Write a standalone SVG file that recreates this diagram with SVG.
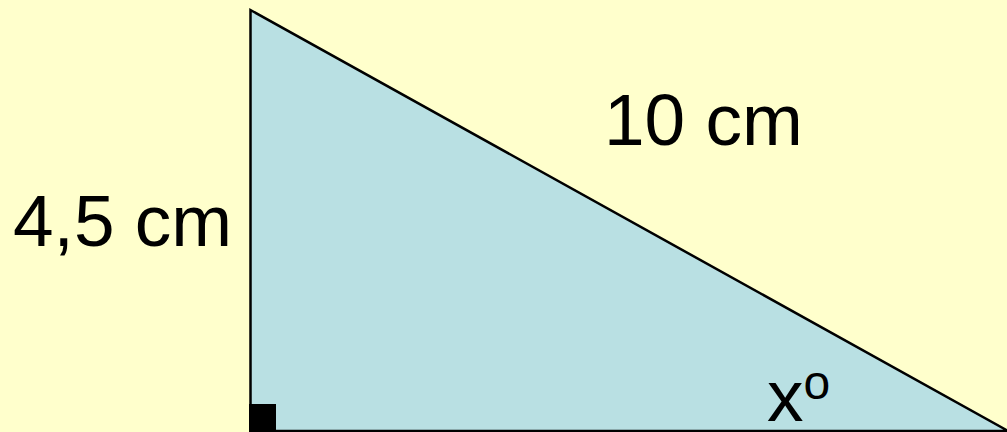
<svg xmlns="http://www.w3.org/2000/svg" width="1007" height="432" viewBox="0 0 1007 432">
<style>
.lbl{font-family:"Liberation Sans",Arial,sans-serif;font-size:73px;fill:#000}
</style>
<rect x="0" y="0" width="1007" height="432" fill="#FFFFCC"/>
<g id="triangle">
<polygon points="250.5,10 250.5,431 1008,431" fill="#B9E0E3" stroke="#000" stroke-width="2.5" stroke-linejoin="miter"/>
<rect x="249" y="404" width="27" height="28" fill="#000"/>
</g>
<text class="lbl" x="13" y="246">4,5 cm</text>
<text class="lbl" x="604" y="145">10 cm</text>
<text class="lbl" x="767" y="421">x<tspan font-size="48" dy="-22">o</tspan></text>
</svg>
